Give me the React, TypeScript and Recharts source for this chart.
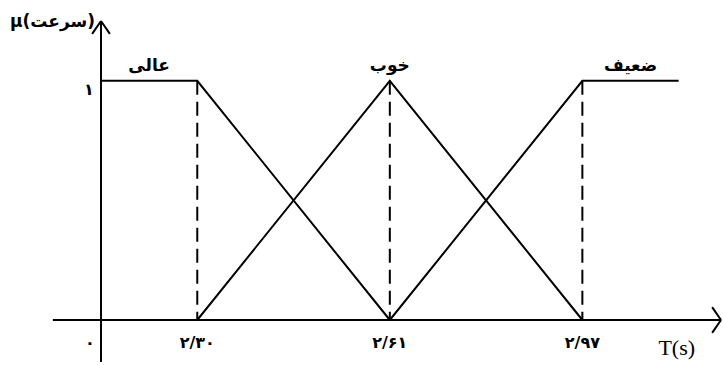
import { LineChart, Line, XAxis, YAxis, ReferenceLine, ReferenceDot } from "recharts"

// break points of the membership functions, drawn evenly spaced like the source figure
const breakPos = [1, 2, 3]
const breakLabels = ["۲/۳۰", "۲/۶۱", "۲/۹۷"]
const originPos = 0.5
const originLabel = "۰"
const yTickLabel = "۱"

// series (x in break-point positions, y = membership degree)
const highX = [0.5, 1, 2]
const highMu = [1, 1, 0]
const goodX = [1, 2, 3]
const goodMu = [0, 1, 0]
const weakX = [2, 3, 3.5]
const weakMu = [0, 1, 1]

const setNames = ["عالی", "خوب", "ضعیف"]
const setLabelX = [0.75, 2, 3.25]

const yTitle = "µ(سرعت)"
const xTitle = "T(s)"

// axis extents
const xAxisFrom = 0.25
const xAxisTo = 3.72
const yAxisFrom = -0.176
const yAxisTo = 1.25

// arrow head size in axis units
const headX = 0.046
const headY = 0.054

const toRows = (xs: number[], ys: number[]) => xs.map((x, i) => ({ x, mu: ys[i] }))

const FA = "'DejaVu Sans', sans-serif"
const INK = "#000"

function XTick({ x, y, payload }: any) {
  const v = payload.value
  const label = v === originPos ? originLabel : breakLabels[breakPos.indexOf(v)]
  return (
    <text x={x + (v === originPos ? -11 : 0)} y={y} dy={28} textAnchor="middle" fontFamily={FA} fontWeight="bold" fontSize={16} fill={INK}>
      {label}
    </text>
  )
}

function YTick({ x, y }: any) {
  return (
    <text x={x - 12} y={y} dy={14} textAnchor="middle" fontFamily={FA} fontWeight="bold" fontSize={16} fill={INK}>
      {yTickLabel}
    </text>
  )
}

const axisSegments = [
  // x axis + head
  [{ x: xAxisFrom, y: 0 }, { x: xAxisTo, y: 0 }],
  [{ x: xAxisTo - headX, y: headY }, { x: xAxisTo, y: 0 }],
  [{ x: xAxisTo - headX, y: -headY }, { x: xAxisTo, y: 0 }],
  // y axis + head
  [{ x: originPos, y: yAxisFrom }, { x: originPos, y: yAxisTo }],
  [{ x: originPos - headX, y: yAxisTo - headY }, { x: originPos, y: yAxisTo }],
  [{ x: originPos + headX, y: yAxisTo - headY }, { x: originPos, y: yAxisTo }],
]

export default function App() {
  return (
    <div style={{ position: "absolute", left: 0, top: 0, width: 723, height: 365, background: "#fff" }}>
      <LineChart width={723} height={365} margin={{ top: 21, right: 2, left: 81, bottom: 15 }}>
        <XAxis
          type="number"
          dataKey="x"
          domain={[0.5, xAxisTo]}
          ticks={[originPos, ...breakPos]}
          tick={<XTick />}
          axisLine={false}
          tickLine={false}
          tickSize={0}
          tickMargin={0}
          height={30}
        />
        <YAxis
          type="number"
          domain={[0, yAxisTo]}
          ticks={[1]}
          tick={<YTick />}
          axisLine={false}
          tickLine={false}
          tickSize={0}
          tickMargin={0}
          width={20}
        />

        {axisSegments.map((s, i) => (
          <ReferenceLine key={`ax${i}`} segment={s} stroke={INK} strokeWidth={2} ifOverflow="visible" />
        ))}
        <ReferenceDot x={originPos} y={yAxisTo} r={0} ifOverflow="visible"
          label={{ value: yTitle, position: "left", offset: 6, fontFamily: FA, fontWeight: "bold", fontSize: 17, fill: INK }} />
        <ReferenceDot x={3.49} y={-0.113} r={0} ifOverflow="visible"
          label={{ value: xTitle, position: "center", fontFamily: "'Liberation Serif', serif", fontSize: 22, fill: INK }} />

        {/* dashed guides */}
        {breakPos.map((p) => (
          <ReferenceLine key={p} segment={[{ x: p, y: 1 }, { x: p, y: 0 }]} stroke={INK} strokeWidth={2} strokeDasharray="14 7" ifOverflow="visible" />
        ))}

        <Line data={toRows(highX, highMu)} dataKey="mu" type="linear" stroke={INK} strokeWidth={2} dot={false} isAnimationActive={false} />
        <Line data={toRows(goodX, goodMu)} dataKey="mu" type="linear" stroke={INK} strokeWidth={2} dot={false} isAnimationActive={false} />
        <Line data={toRows(weakX, weakMu)} dataKey="mu" type="linear" stroke={INK} strokeWidth={2} dot={false} isAnimationActive={false} />

        {setNames.map((n, i) => (
          <ReferenceDot key={n} x={setLabelX[i]} y={1} r={0} ifOverflow="visible"
            label={{ value: n, position: "top", offset: 10, fontFamily: FA, fontWeight: "bold", fontSize: 17, fill: INK }} />
        ))}
      </LineChart>
    </div>
  )
}
